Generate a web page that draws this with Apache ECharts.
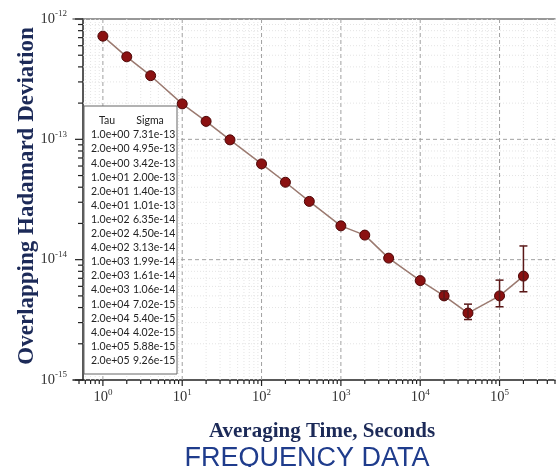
<!DOCTYPE html>
<html><head><meta charset="utf-8">
<script src="https://cdn.jsdelivr.net/npm/echarts@6/dist/echarts.min.js"></script>
<style>html,body{margin:0;padding:0;background:#fff}#c{width:558px;height:467px}</style>
</head><body><div id="c"></div>
<script>
// ---- data ----
const tau = [1, 2, 4, 10, 20, 40, 100, 200, 400, 1000, 2000, 4000, 10000, 20000, 40000, 100000, 200000];
const sigma = [7.2e-13, 4.85e-13, 3.38e-13, 1.97e-13, 1.41e-13, 9.9e-14, 6.25e-14, 4.4e-14, 3.05e-14,
               1.91e-14, 1.6e-14, 1.03e-14, 6.7e-15, 5.0e-15, 3.6e-15, 5.0e-15, 7.3e-15];
const errLow  = [null, null, null, null, null, null, null, null, null, null, null, null, null, 4.7e-15, 3.18e-15, 4.06e-15, 5.41e-15];
const errHigh = [null, null, null, null, null, null, null, null, null, null, null, null, null, 5.5e-15, 4.27e-15, 6.76e-15, 1.30e-14];
const tableHeader = ['Tau', 'Sigma'];
const tableTau = ['1.0e+00','2.0e+00','4.0e+00','1.0e+01','2.0e+01','4.0e+01','1.0e+02','2.0e+02','4.0e+02',
                  '1.0e+03','2.0e+03','4.0e+03','1.0e+04','2.0e+04','4.0e+04','1.0e+05','2.0e+05'];
const tableSigma = ['7.31e-13','4.95e-13','3.42e-13','2.00e-13','1.40e-13','1.01e-13','6.35e-14','4.50e-14','3.13e-14',
                    '1.99e-14','1.61e-14','1.06e-14','7.02e-15','5.40e-15','4.02e-15','5.88e-15','9.26e-15'];
const xDecades = [0.1, 1, 10, 100, 1000, 10000, 100000];
const yDecades = [1e-15, 1e-14, 1e-13, 1e-12];
const minorSteps = [2, 3, 4, 5, 6, 7, 8, 9];
const xTitle = 'Averaging Time, Seconds';
const yTitle = 'Overlapping Hadamard Deviation';
const chartTitle = 'FREQUENCY DATA';
const xMin = 0.42, xMax = 5e5, yMin = 1e-15, yMax = 1e-12;

// ---- build helper marks (grid lines and ticks placed via axis scales) ----
const deco = []; // [x, y, kind]
xDecades.forEach(d => {
  if (d >= xMin && d <= xMax) { deco.push([d, 1e-14, 1]); deco.push([d, 1e-14, 5]); }
  minorSteps.forEach(m => { const v = d * m; if (v >= xMin && v <= xMax) { deco.push([v, 1e-14, 0]); deco.push([v, 1e-14, 4]); } });
});
yDecades.forEach(d => {
  if (d > yMin && d < yMax) deco.push([1, d, 3]);
  deco.push([1, d, 7]);
  minorSteps.forEach(m => { const v = d * m; if (v < yMax) { deco.push([1, v, 2]); deco.push([1, v, 6]); } });
});
const errData = [];
tau.forEach((t, i) => { if (errLow[i] != null) errData.push([t, errLow[i], errHigh[i]]); });

const Y_OFF = 10;
function isDecade(v) { const l = Math.log10(v); return Math.abs(l - Math.round(l)) < 1e-6; }
function supLabel(v) { return isDecade(v) ? '{b|10}{e|' + Math.round(Math.log10(v)) + '}' : ''; }
const richLab = {
  b: { fontFamily: 'Liberation Serif', fontSize: 14.5, color: '#333' },
  e: { fontFamily: 'Liberation Serif', fontSize: 9, color: '#333', padding: [0, 0, 10, 0] }
};

const chart = echarts.init(document.getElementById('c'), null, { renderer: 'canvas' });
const option = {
  backgroundColor: '#fff',
  animation: false,
  grid: { left: 73, top: 19, right: -13, bottom: 87, containLabel: false },
  xAxis: [{
    type: 'log', min: xMin, max: xMax, splitNumber: 6, position: 'bottom',
    axisLine: { show: true, lineStyle: { color: '#222', width: 1.5 } },
    axisTick: { show: false }, splitLine: { show: false }, minorTick: { show: false },
    axisLabel: { formatter: supLabel, rich: richLab, margin: 8 }
  }, {
    type: 'log', min: xMin, max: xMax, position: 'top',
    axisLine: { show: true, lineStyle: { color: '#777', width: 1.5 } },
    axisTick: { show: false }, axisLabel: { show: false }, splitLine: { show: false }
  }],
  yAxis: {
    type: 'log', min: yMin, max: yMax, offset: -Y_OFF,
    axisLine: { show: true, lineStyle: { color: '#222', width: 1.5 } },
    axisTick: { show: false }, splitLine: { show: false }, minorTick: { show: false },
    axisLabel: { formatter: supLabel, rich: richLab, margin: 16 }
  },
  series: [{
    type: 'custom', silent: true, z: 1, data: deco, clip: false,
    renderItem(params, api) {
      const cs = params.coordSys;
      const x = api.value(0), y = api.value(1), k = api.value(2);
      const bottom = cs.y + cs.height, axX = cs.x + Y_OFF;
      if (k === 0 || k === 1) {
        const px = api.coord([x, y])[0];
        if (px < axX) return;
        return { type: 'line', shape: { x1: px, y1: cs.y, x2: px, y2: bottom },
          style: { stroke: k ? '#a0a0a0' : '#e4e4e4', lineWidth: 1, lineDash: k ? [4, 3] : [1, 2] } };
      }
      if (k === 2 || k === 3) {
        const py = api.coord([x, y])[1];
        return { type: 'line', shape: { x1: axX, y1: py, x2: cs.x + cs.width, y2: py },
          style: { stroke: k === 3 ? '#a0a0a0' : '#e4e4e4', lineWidth: 1, lineDash: k === 3 ? [4, 3] : [1, 2] } };
      }
      if (k === 4 || k === 5) {
        const px = api.coord([x, y])[0];
        return { type: 'line', z2: 10, shape: { x1: px, y1: bottom, x2: px, y2: bottom + (k === 5 ? 6 : 4) },
          style: { stroke: '#222', lineWidth: 1.2 } };
      }
      const py = api.coord([x, y])[1];
      return { type: 'line', z2: 10, shape: { x1: axX, y1: py, x2: axX - (k === 7 ? 8 : 5), y2: py },
        style: { stroke: '#222', lineWidth: 1.2 } };
    }
  }, {
    type: 'line', data: tau.map((t, i) => [t, sigma[i]]), z: 3,
    symbol: 'circle', symbolSize: 10, showAllSymbol: true,
    lineStyle: { color: '#9b7a70', width: 1.5 },
    itemStyle: { color: '#8b1111', borderColor: '#4d0707', borderWidth: 1 }
  }, {
    type: 'custom', z: 4, data: errData, encode: { x: 0, y: [1, 2] },
    renderItem(params, api) {
      const t = api.value(0);
      const p1 = api.coord([t, api.value(2)]);
      const p2 = api.coord([t, api.value(1)]);
      const w = 4;
      const st = { stroke: '#5a1818', lineWidth: 1.5 };
      return { type: 'group', children: [
        { type: 'line', shape: { x1: p1[0], y1: p1[1], x2: p2[0], y2: p2[1] }, style: st },
        { type: 'line', shape: { x1: p1[0] - w, y1: p1[1], x2: p1[0] + w, y2: p1[1] }, style: st },
        { type: 'line', shape: { x1: p2[0] - w, y1: p2[1], x2: p2[0] + w, y2: p2[1] }, style: st }
      ] };
    }
  }],
  graphic: []
};
chart.setOption(option);

// ---- table inset, axis names, title ----
const g = [];
g.push({ type: 'rect', z: 50, shape: { x: 84, y: 106, width: 93, height: 268 },
  style: { fill: '#fff', stroke: '#666', lineWidth: 1 } });
const tf = 'Lato';
g.push({ type: 'text', z: 51, x: 107, y: 121, style: { text: tableHeader[0], font: '10.5px ' + tf, fill: '#222', textAlign: 'center', textVerticalAlign: 'middle' } });
g.push({ type: 'text', z: 51, x: 150, y: 121, style: { text: tableHeader[1], font: '10.5px ' + tf, fill: '#222', textAlign: 'center', textVerticalAlign: 'middle' } });
tableTau.forEach((s, i) => {
  const y = 135 + i * 14.1;
  g.push({ type: 'text', z: 51, x: 91, y, style: { text: s, font: '10.5px ' + tf, fill: '#222', textAlign: 'left', textVerticalAlign: 'middle' } });
  g.push({ type: 'text', z: 51, x: 133, y, style: { text: tableSigma[i], font: '10.5px ' + tf, fill: '#222', textAlign: 'left', textVerticalAlign: 'middle' } });
});
g.push({ type: 'text', z: 51, x: 322, y: 432, style: { text: xTitle, font: 'bold 21px "Liberation Serif"', fill: '#1c2a58', textAlign: 'center', textVerticalAlign: 'middle' } });
g.push({ type: 'text', z: 51, x: 27, y: 196, rotation: Math.PI / 2, style: { text: yTitle, font: 'bold 23px "Liberation Serif"', fill: '#1c2a58', textAlign: 'center', textVerticalAlign: 'middle' } });
g.push({ type: 'text', z: 51, x: 307, y: 459, style: { text: chartTitle, font: '27px "Liberation Sans"', fill: '#1f3c8c', textAlign: 'center', textVerticalAlign: 'middle' } });
chart.setOption({ graphic: g });
</script></body></html>
